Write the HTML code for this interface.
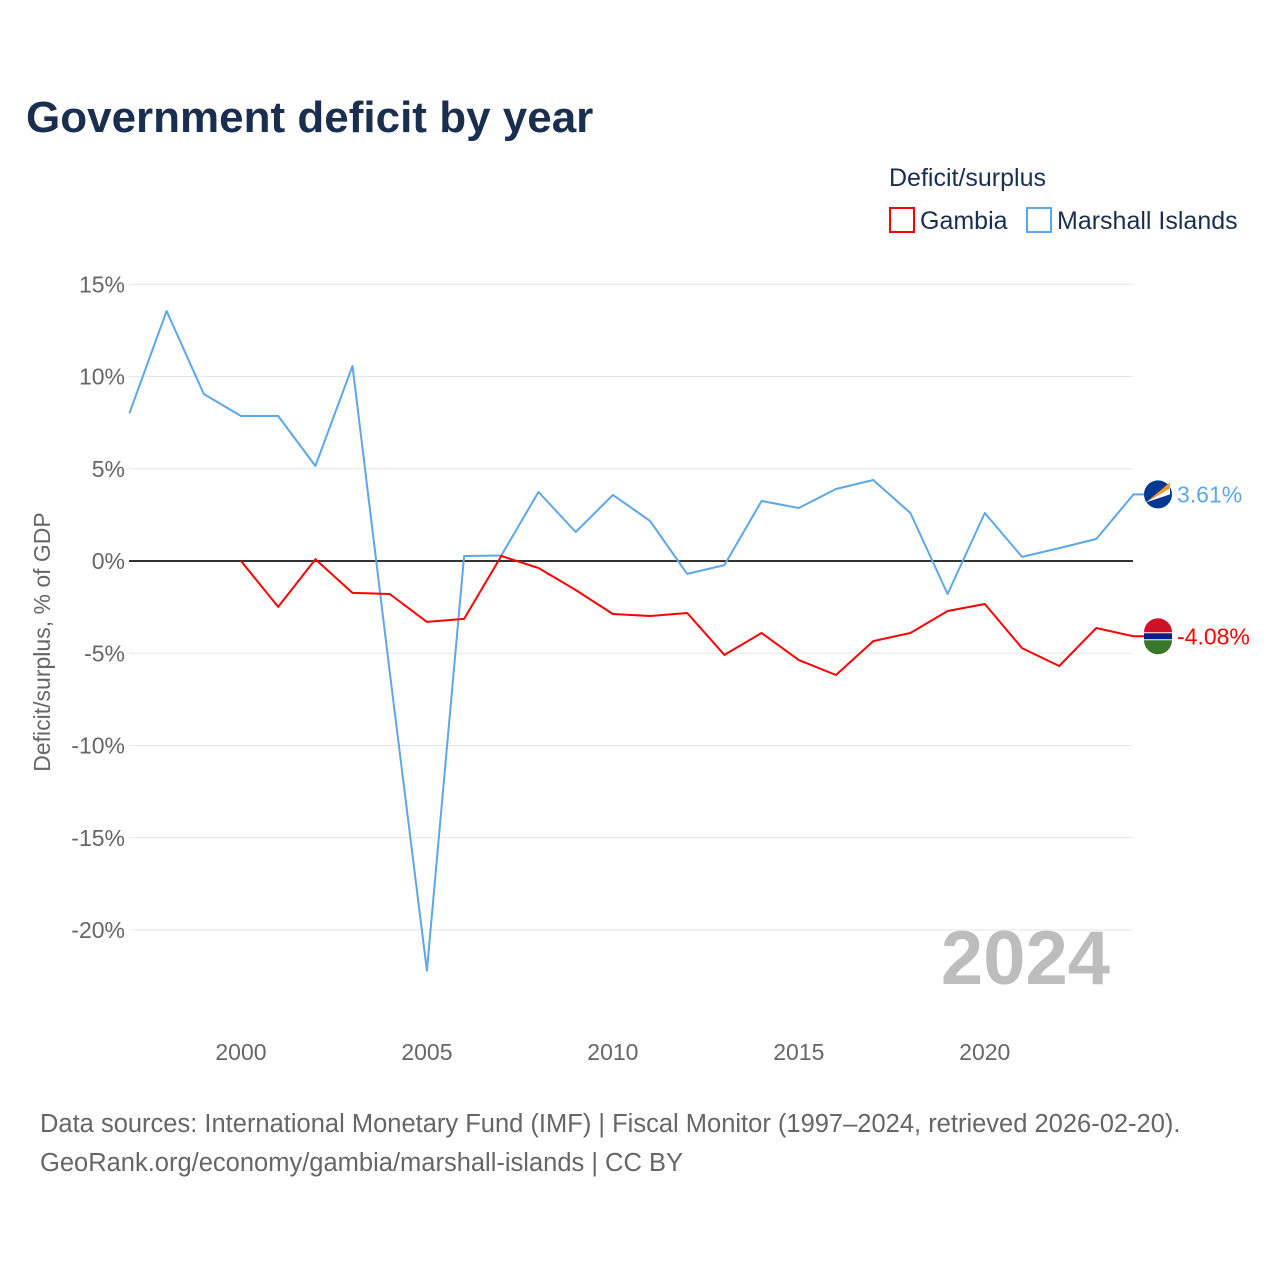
<!DOCTYPE html>
<html><head><meta charset="utf-8"><style>
body{margin:0;background:#fff;font-family:"Liberation Sans",sans-serif}
</style></head><body>
<svg id="c" width="1280" height="1280" xmlns="http://www.w3.org/2000/svg">
<rect width="1280" height="1280" fill="#fff"/>
<text x="26" y="132" font-size="44" font-weight="bold" fill="#1a2e4f">Government deficit by year</text>
<text x="889" y="186" font-size="25" fill="#1a2e4f">Deficit/surplus</text>
<g><rect x="890" y="208" width="24" height="24" fill="none" stroke="#f00" stroke-width="2"/><text x="920" y="229" font-size="25" fill="#1a2e4f">Gambia</text></g>
<g><rect x="1027" y="208" width="24" height="24" fill="none" stroke="#5ea6ea" stroke-width="2"/><text x="1057" y="229" font-size="25" fill="#1a2e4f">Marshall Islands</text></g>
<text transform="translate(50,642) rotate(-90)" text-anchor="middle" font-size="23" fill="#666">Deficit/surplus, % of GDP</text>
<g id="grid"></g>
<text x="1110" y="984" text-anchor="end" font-size="76" font-weight="bold" fill="#bdbdbd">2024</text>
<g id="series"></g>
<text x="40" y="1132" font-size="25.5" fill="#666">Data sources: International Monetary Fund (IMF) | Fiscal Monitor (1997–2024, retrieved 2026-02-20).</text>
<text x="40" y="1171" font-size="25.5" fill="#666">GeoRank.org/economy/gambia/marshall-islands | CC BY</text>
</svg>
<script>
const years=[1997,1998,1999,2000,2001,2002,2003,2004,2005,2006,2007,2008,2009,2010,2011,2012,2013,2014,2015,2016,2017,2018,2019,2020,2021,2022,2023,2024];
const marshall=[8.0,13.55,9.05,7.86,7.86,5.15,10.57,-6.0,-22.2,0.27,0.3,3.74,1.57,3.58,2.17,-0.7,-0.22,3.25,2.87,3.9,4.39,2.6,-1.79,2.6,0.22,0.7,1.19,3.61];
const gambia=[null,null,null,0,-2.49,0.1,-1.73,-1.79,-3.3,-3.14,0.27,-0.38,-1.57,-2.87,-2.98,-2.82,-5.09,-3.9,-5.37,-6.18,-4.34,-3.9,-2.71,-2.33,-4.72,-5.69,-3.63,-4.08];
const yTicks=[15,10,5,0,-5,-10,-15,-20];
const xTicks=[2000,2005,2010,2015,2020];
const NS='http://www.w3.org/2000/svg';
const X=y=>129.4+(y-1997)*37.19;
const Y=v=>561-v*18.45;
const grid=document.getElementById('grid'),ser=document.getElementById('series');
function mk(t,a,p){const e=document.createElementNS(NS,t);for(const k in a)e.setAttribute(k,a[k]);p.appendChild(e);return e;}
yTicks.forEach(v=>{
 const l=mk('line',{x1:129,x2:1133,y1:Y(v),y2:Y(v),stroke:v===0?'#333':'#e6e6e6','stroke-width':v===0?2:1},grid);
 
 
 const t=mk('text',{x:125,y:Y(v)+8,'text-anchor':'end','font-size':23,fill:'#666'},grid);
 t.textContent=v+'%';
 
 
});
xTicks.forEach(v=>{
 const t=mk('text',{x:X(v),y:1060,'text-anchor':'middle','font-size':23,fill:'#666'},grid);
 t.textContent=v;
 
 
});
function line(vals,col,name){
 const pts=[];vals.forEach((v,i)=>{if(v!==null)pts.push(X(years[i]).toFixed(1)+','+Y(v).toFixed(1));});
 const p=mk('polyline',{points:pts.join(' '),fill:'none',stroke:col,'stroke-width':2,'stroke-linejoin':'round'},ser);
 
 
}
line(marshall,'#5ea6ea','marshall-islands-line');
line(gambia,'#f00','gambia-line');
function endLabel(v,col,name,flag){
 const y=Y(v);
 mk('line',{x1:1133,x2:1145,y1:y,y2:y,stroke:col,'stroke-width':2},ser);
 const g=mk('g',{},ser);
 
 
 if(flag==='mh'){mk('circle',{cx:1158,cy:y,r:14,fill:'#003893'},g);mk('path',{d:`M1146 ${y+8} L1170 ${y-12} L1170 ${y-6} Z`,fill:'#f89c1c'},g);mk('path',{d:`M1146 ${y+8} L1170 ${y-6} L1170 ${y} Z`,fill:'#fff'},g);}
 else{mk('circle',{cx:1158,cy:y,r:14,fill:'#fff'},g);mk('path',{d:`M1144 ${y-4} A14 14 0 0 1 1172 ${y-4} Z`,fill:'#ce1126'},g);mk('rect',{x:1144,y:y-3,width:28,height:6,fill:'#0c1c8c'},g);mk('path',{d:`M1144 ${y+4} A14 14 0 0 0 1172 ${y+4} Z`,fill:'#3a7728'},g);}
 const t=mk('text',{x:1177,y:y+8,'font-size':23,fill:col},ser);
 t.textContent=v.toFixed(2)+'%';
 
 
}
endLabel(marshall[marshall.length-1],'#5ea6ea','marshall-islands','mh');
endLabel(gambia[gambia.length-1],'#f00','gambia','gm');
</script>
</body></html>
